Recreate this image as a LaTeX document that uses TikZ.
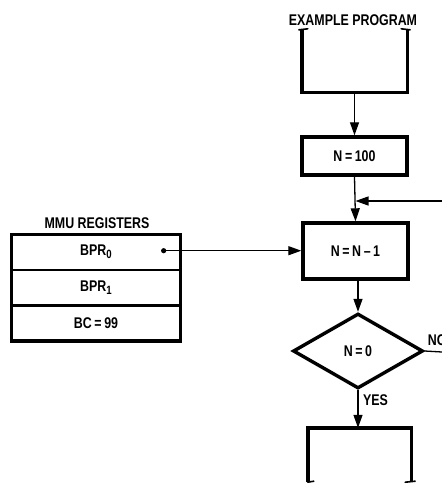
\documentclass[tikz,border=0pt]{standalone}
\usepackage{fontspec}
\setmainfont{Liberation Sans}[FakeStretch=0.8]
\usetikzlibrary{shapes.geometric,arrows.meta,calc}
\tikzset{
  txt/.style={font=\fontsize{15.5}{16}\selectfont\bfseries},
  thickbox/.style={draw=black,line width=3.4pt,rectangle,inner sep=0pt,txt},
  openbox/.style={rectangle,inner sep=0pt},
  opensides/.style={line width=3.4pt,line join=miter},
  tick/.style={line width=1.6pt,line cap=round},
  conn/.style={line width=1.3pt,-{Triangle[length=13pt,width=9pt]}},
  plain/.style={line width=1.3pt},
  lbl/.style={txt,inner sep=0pt},
  regrow/.style={draw=black,line width=1.3pt,rectangle,minimum width=168pt,minimum height=34.3pt,inner sep=0pt,txt},
  decision/.style={draw=black,diamond,line width=3.4pt,minimum width=130pt,minimum height=75pt,aspect=1.73,inner sep=0pt,txt}
}
\newcommand{\lowsub}[1]{{\fontsize{12}{12}\selectfont\raisebox{-3pt}{#1}}}
\begin{document}
\begin{tikzpicture}[x=1pt,y=-1pt]
\useasboundingbox (0,0) rectangle (442,485);
% titles
\node[lbl] (t1) at (353,20) {EXAMPLE PROGRAM};
\node[lbl] (t2) at (97,223) {MMU REGISTERS};
% top open box
\node[openbox,minimum width=105pt,minimum height=62pt] (prog) at (354.5,61) {};
\draw[opensides] (prog.north west) -- (prog.south west) -- (prog.south east) -- (prog.north east);
\draw[tick] ($(prog.north west)+(-3,0)$) -- ($(prog.north west)+(6,-1)$);
\draw[tick] ($(prog.north east)+(-6,-1)$) -- ($(prog.north east)+(3,0)$);
% N = 100
\node[thickbox,minimum width=105pt,minimum height=38pt] (n100) at (354.5,156) {N\,=\,100};
% N = N - 1
\node[thickbox,minimum width=105pt,minimum height=56pt] (nn1) at (355.5,251) {N\,=\,N\,\textendash\,1};
% decision
\node[decision] (dec) at (358,351) {N\,=\,0};
% bottom open box
\node[openbox,minimum width=103pt,minimum height=54pt] (fin) at (359.5,455) {};
\draw[opensides] (fin.south west) -- (fin.north west) -- (fin.north east) -- (fin.south east);
\draw[tick] ($(fin.south west)+(0,0)$) -- ($(fin.south west)+(6,-1)$);
\draw[tick] ($(fin.south east)+(-6,0)$) -- ($(fin.south east)+(4,-1)$);
% MMU registers
\node[regrow] (r0) at (96,252.2) {BPR\lowsub{0}};
\node[regrow,anchor=north] (r1) at (r0.south) {BPR\lowsub{1}};
\node[regrow,anchor=north] (r2) at (r1.south) {BC\,=\,99};
\draw[line width=3.6pt] (r0.north west) rectangle (r2.south east);
\coordinate (dot) at ($(r0.east)+(-17,-1.5)$);
\fill (dot) circle (2.6pt);
% connectors
\draw[conn] (prog.south) -- (n100.north);
\draw[conn] (n100.south) -- (nn1.north);
\coordinate (fbin) at (442,201);
\draw[conn] (fbin) -- (fbin -| nn1.north);
\draw[conn] (dot) -- (dot -| nn1.west);
\draw[conn] (nn1.south -| dec.north) -- (dec.north);
\draw[conn] (dec.south) -- (dec.south |- fin.north);
\coordinate (noend) at (442,352);
\draw[plain] (dec.east) -- (noend);
\node[lbl,anchor=south west] (no) at ($(dec.east)+(3,-5)$) {NO};
\node[lbl,anchor=west] (yes) at ($(dec.south)+(5,10)$) {YES};
\end{tikzpicture}
\end{document}
